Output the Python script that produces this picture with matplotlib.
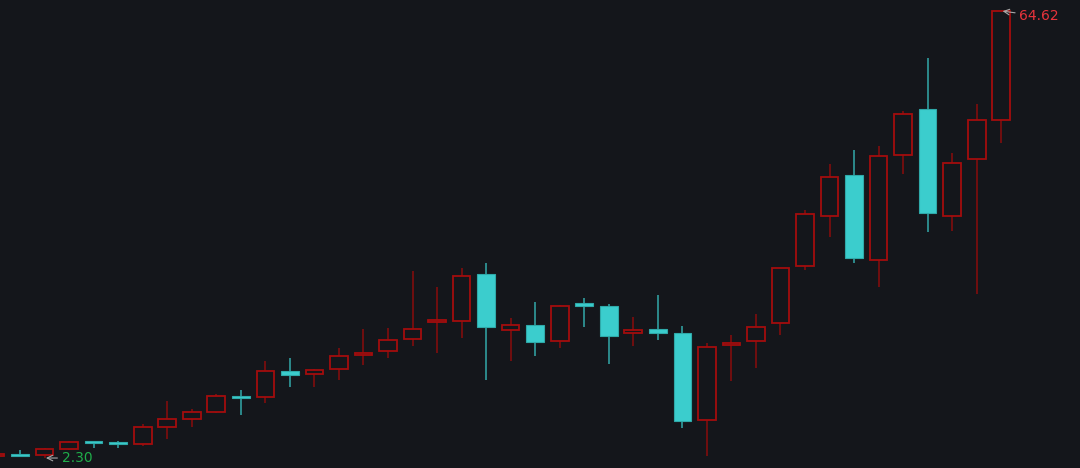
import numpy as np
import matplotlib
matplotlib.use('Agg')
import matplotlib.pyplot as plt

# 日K数据 (开, 高, 低, 收)
opens  = [2.60, 2.72, 2.68, 3.60, 4.54, 4.34, 4.30, 6.67, 7.78, 8.72,
          10.77, 10.77, 14.43, 13.97, 14.67, 16.62, 17.26, 18.85, 21.22, 21.36,
          28.00, 20.15, 20.80, 18.66, 23.87, 23.45, 19.69, 20.29, 19.69, 7.64,
          18.01, 18.57, 21.17, 29.03, 36.08, 41.72, 29.86, 44.50, 50.92, 36.00,
          43.95, 49.38]
highs  = [2.70, 3.42, 3.74, 4.67, 4.58, 4.67, 7.04, 10.29, 9.11, 11.23,
          11.78, 15.87, 16.20, 14.75, 17.60, 20.29, 20.43, 28.37, 26.14, 28.79,
          29.45, 21.82, 24.05, 23.63, 24.65, 23.77, 22.00, 24.99, 20.71, 18.38,
          19.41, 22.42, 28.75, 36.88, 43.25, 45.24, 45.76, 50.68, 58.07, 44.82,
          51.61, 64.62]
lows   = [2.55, 2.48, 2.30, 3.42, 3.66, 3.66, 4.02, 4.91, 6.58, 8.54,
          8.34, 10.01, 12.16, 12.16, 13.18, 15.31, 16.20, 17.96, 16.98, 19.03,
          13.14, 15.78, 16.48, 17.68, 20.52, 15.37, 17.92, 18.80, 6.53, 2.58,
          13.00, 14.89, 19.41, 28.55, 33.07, 29.42, 26.10, 41.94, 33.77, 33.99,
          25.21, 46.18]
closes = [2.64, 2.65, 3.56, 4.49, 4.39, 4.27, 6.58, 7.70, 8.69, 10.95,
          10.67, 14.43, 13.92, 14.57, 16.52, 16.94, 18.71, 20.25, 21.50, 27.63,
          20.52, 20.80, 18.52, 23.45, 23.45, 19.31, 20.19, 19.69, 7.50, 17.74,
          18.38, 20.57, 28.75, 36.36, 41.48, 30.23, 44.41, 50.26, 36.42, 43.39,
          49.38, 64.62]

BG = '#14161b'
UP = '#a30d0d'
WICK_UP = '#8a0c0c'
DOWN = '#3bcdcd'

fig = plt.figure(figsize=(10.8, 4.68), dpi=100)
fig.patch.set_facecolor(BG)
ax = fig.add_axes([0, 0, 1, 1])
ax.set_facecolor(BG)

x = np.arange(len(opens))
o = np.array(opens)
h = np.array(highs)
l = np.array(lows)
c = np.array(closes)
up = c >= o

#影线
ax.vlines(x[up], l[up], h[up], color=WICK_UP, linewidth=1.1, zorder=1)
ax.vlines(x[~up], l[~up], h[~up], color=DOWN, linewidth=1.1, zorder=1, alpha=0.8)

#实体, 最小高度防止十字星看不见
bottom = np.minimum(o, c)
height = np.maximum(np.abs(c - o), 0.25)
ax.bar(x[up], height[up], bottom=bottom[up], width=0.72, facecolor=BG,
       edgecolor=UP, linewidth=1.3, zorder=2)
ax.bar(x[~up], height[~up], bottom=bottom[~up], width=0.72, facecolor=DOWN,
       edgecolor='#2fa9a9', linewidth=0.8, zorder=2)

# 最高最低点标注
imax = int(np.argmax(h))
imin = int(np.argmin(l))
ax.annotate('%.2f' % h[imax], xy=(imax, h[imax]), xytext=(18, -5),
            textcoords='offset pixels', color='#e8333b', fontsize=10,
            ha='left', va='center',
            arrowprops=dict(arrowstyle='->', color='#a8a8a8', lw=0.8,
                            shrinkA=1, shrinkB=1))
ax.annotate('%.2f' % l[imin], xy=(imin, l[imin]), xytext=(17, 0),
            textcoords='offset pixels', color='#1fae4a', fontsize=10,
            ha='left', va='center',
            arrowprops=dict(arrowstyle='->', color='#a8a8a8', lw=0.8,
                            shrinkA=1, shrinkB=1))

ax.set_xlim(0.1835, 44.21)
ax.set_ylim(0.91, 66.15)
ax.axis('off')

fig.savefig('out.png', dpi=100, facecolor=BG)
